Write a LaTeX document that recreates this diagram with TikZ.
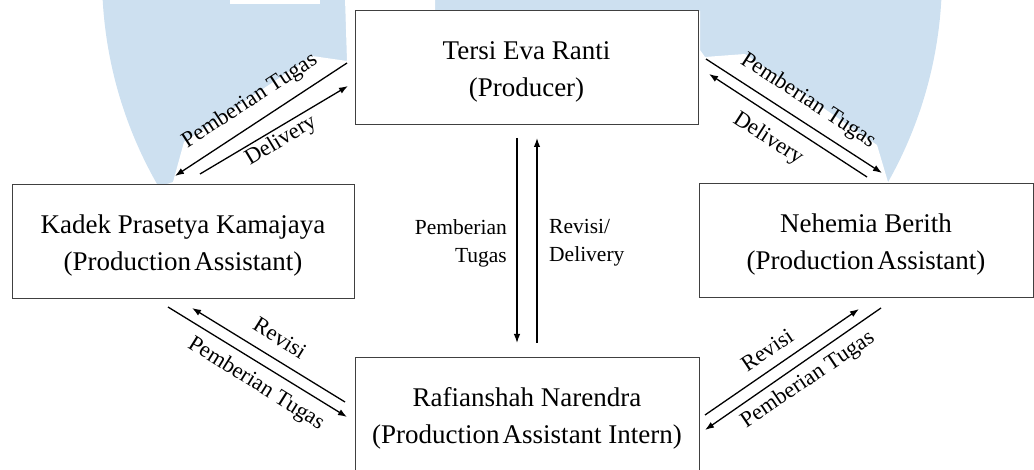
\documentclass[tikz,border=0pt]{standalone}
\usepackage{fontspec}
\setmainfont{Liberation Serif}
\usetikzlibrary{arrows.meta}
\definecolor{wmblue}{RGB}{205,224,240}
\definecolor{boxline}{RGB}{64,64,64}
\begin{document}
\begin{tikzpicture}[x=1pt,y=-1pt,
  box/.style={draw=boxline, line width=1pt, fill=white, minimum height=114pt, inner sep=0pt},
  boxtext/.style={align=center, inner sep=0pt, font=\fontsize{27}{37}\selectfont},
  conn/.style={line width=1.3pt, -{Latex[length=9pt,width=6.5pt]}},
  dlbl/.style={inner sep=0pt, font=\fontsize{22.5}{27}\selectfont},
  vlbl/.style={inner sep=0pt, font=\fontsize{21.5}{28}\selectfont}]
\path[use as bounding box, clip] (0,0) rectangle (1034,470);
% watermark
\fill[wmblue] (522,-24) circle[radius=420pt];
\fill[white] (150,190) -- (173,182) -- (184,142) -- (312,56) -- (347,61) -- (345,-2) -- (435,-2) -- (435,11) -- (700,11) -- (700,50) -- (705,57) -- (745,54) -- (877,145) -- (888,182) -- (890,480) -- (150,480) -- cycle;
\fill[white] (230,-2) rectangle (320,4);
% boxes
\node[box, minimum width=343pt] (tersi) at (526.5,68) {};
\node[box, minimum width=342pt] (kadek) at (183,242) {};
\node[box, minimum width=334pt] (nehemia) at (866,241) {};
\node[box, minimum width=344pt] (rafi) at (527,415) {};
\node[boxtext] (tersiT) at (526.5,72) {Tersi Eva Ranti\\(Producer)};
\node[boxtext] (kadekT) at (183,246) {Kadek Prasetya Kamajaya\\(Production\hspace{0.12em}Assistant)};
\node[boxtext] (nehemiaT) at (866,245) {Nehemia Berith\\(Production\hspace{0.12em}Assistant)};
\node[boxtext] (rafiT) at (527,418) {Rafianshah Narendra\\(Production\hspace{0.12em}Assistant Intern)};
% connector end points
\coordinate (ula) at (347,63);  \coordinate (ulb) at (175,176);
\coordinate (ulc) at (200,174); \coordinate (uld) at (348,86);
\coordinate (ura) at (706,59);  \coordinate (urb) at (882,173);
\coordinate (urc) at (867,177); \coordinate (urd) at (709,74);
\coordinate (lla) at (345,402); \coordinate (llb) at (192,308);
\coordinate (llc) at (168,307); \coordinate (lld) at (347,417);
\coordinate (lra) at (705,415); \coordinate (lrb) at (859,309);
\coordinate (lrc) at (881,308); \coordinate (lrd) at (705,430);
\coordinate (va) at (517,138);  \coordinate (vb) at (517,343);
\coordinate (vc) at (537,343);  \coordinate (vd) at (537,138);
% connectors
\draw[conn] (ula) -- (ulb);
\draw[conn] (ulc) -- (uld);
\draw[conn] (ura) -- (urb);
\draw[conn] (urc) -- (urd);
\draw[conn] (lla) -- (llb);
\draw[conn] (llc) -- (lld);
\draw[conn] (lra) -- (lrb);
\draw[conn] (lrc) -- (lrd);
\draw[conn] (va) -- (vb);
\draw[conn] (vc) -- (vd);
% labels
\node[dlbl, rotate=33] (ulA) at (250,101) {Pemberian Tugas};
\node[dlbl, rotate=31] (ulB) at (281,141) {Delivery};
\node[dlbl, rotate=-33] (urA) at (808,101) {Pemberian Tugas};
\node[dlbl, rotate=-33] (urB) at (768,139) {Delivery};
\node[dlbl, rotate=-32] (llA) at (280,338) {Revisi};
\node[dlbl, rotate=-32] (llB) at (256,384) {Pemberian Tugas};
\node[dlbl, rotate=34] (lrA) at (767,350) {Revisi};
\node[dlbl, rotate=34] (lrB) at (808,380) {Pemberian Tugas};
\node[vlbl, align=right, anchor=east] (vA) at (507,243) {Pemberian\\Tugas};
\node[vlbl, align=left, anchor=west] (vB) at (549,243) {Revisi/\\Delivery};
\end{tikzpicture}
\end{document}
